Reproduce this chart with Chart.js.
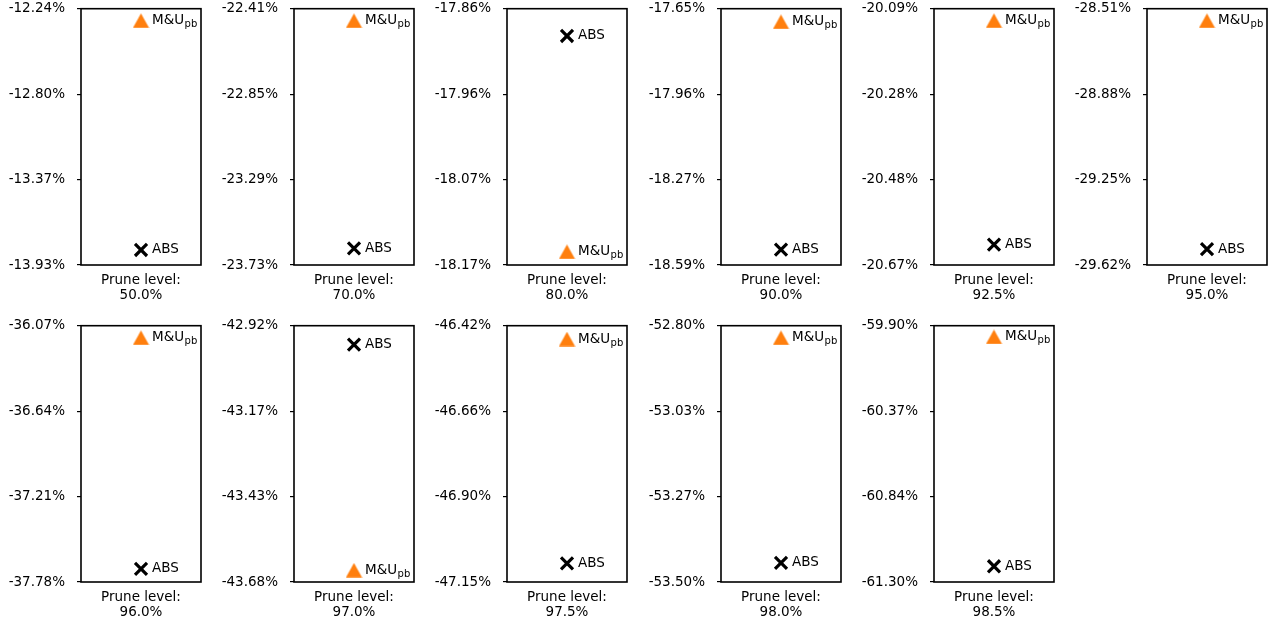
<!DOCTYPE html>
<html>
<head>
<meta charset="utf-8">
<script src="https://cdn.jsdelivr.net/npm/chart.js@4.4.1/dist/chart.umd.min.js"></script>
<style>
  html, body { margin: 0; padding: 0; background: #fff; overflow: hidden; }
  #wrap { position: relative; width: 1278px; height: 622px; }
  canvas { position: absolute; }
</style>
</head>
<body>
<div id="wrap"></div>
<script>
// ---- data ----
const pruneLevels = ['50.0%', '70.0%', '80.0%', '90.0%', '92.5%', '95.0%', '96.0%', '97.0%', '97.5%', '98.0%', '98.5%'];
const muPbValues = [-12.319, -22.472, -18.154, -17.694, -20.117, -28.562, -36.150, -43.645, -46.454, -52.833, -59.965];
const absValues  = [-13.831, -23.644, -17.893, -18.530, -20.624, -29.551, -37.692, -42.976, -47.094, -53.448, -61.218];
const yAxisTop    = [-12.24, -22.41, -17.86, -17.646, -20.09, -28.51, -36.07, -42.92, -46.416, -52.80, -59.904];
const yAxisBottom = [-13.93, -23.73, -18.17, -18.586, -20.67, -29.62, -37.78, -43.68, -47.147, -53.50, -61.304];
const seriesNames = ['ABS', 'M&U'];

Chart.defaults.font.family = "'DejaVu Sans', sans-serif";
Chart.defaults.color = '#000';

// triangle marker image (centered on bounding box like matplotlib '^')
const tri = document.createElement('canvas');
tri.width = 17; tri.height = 15;
(function () {
  const c = tri.getContext('2d');
  c.fillStyle = '#ff7f0e';
  c.beginPath();
  c.moveTo(8.5, 0.2); c.lineTo(16.6, 14.8); c.lineTo(0.4, 14.8); c.closePath();
  c.fill();
})();

const framePlugin = {
  id: 'frame',
  afterDraw(chart) {
    const {ctx, chartArea: a} = chart;
    ctx.save();
    ctx.strokeStyle = '#000';
    ctx.lineWidth = 1.6;
    ctx.strokeRect(a.left, a.top, a.right - a.left, a.bottom - a.top);
    ctx.restore();
  }
};

const labelPlugin = {
  id: 'pointLabels',
  afterDatasetsDraw(chart) {
    const ctx = chart.ctx;
    ctx.save();
    ctx.fillStyle = '#000';
    ctx.textAlign = 'left';
    ctx.textBaseline = 'middle';
    chart.data.datasets.forEach((ds, i) => {
      const p = chart.getDatasetMeta(i).data[0];
      if (!p) return;
      const x = p.x + 11, y = p.y;
      ctx.font = "13.5px 'DejaVu Sans'";
      ctx.fillText(ds.label, x, y);
      if (ds.sub) {
        const w = ctx.measureText(ds.label).width;
        ctx.font = "10px 'DejaVu Sans'";
        ctx.fillText(ds.sub, x + w + 0.5, y + 4);
      }
    });
    ctx.restore();
  }
};

const wrap = document.getElementById('wrap');
pruneLevels.forEach((lvl, i) => {
  const col = i % 6, row = Math.floor(i / 6);
  const cv = document.createElement('canvas');
  cv.width = 213; cv.height = 313;
  cv.style.width = '213px'; cv.style.height = '313px';
  cv.style.left = Math.round(col * 213.2) + 'px';
  cv.style.top = (row * 317 - 3) + 'px';
  wrap.appendChild(cv);

  const top = yAxisTop[i], bot = yAxisBottom[i];
  new Chart(cv, {
    type: 'scatter',
    data: {
      datasets: [
        { label: seriesNames[1], sub: 'pb', data: [{x: 0, y: muPbValues[i]}],
          pointStyle: tri, pointRadius: 8, backgroundColor: '#ff7f0e', borderColor: '#ff7f0e' },
        { label: seriesNames[0], data: [{x: 0, y: absValues[i]}],
          pointStyle: 'crossRot', pointRadius: 8.5, borderWidth: 3.2, borderColor: '#000', backgroundColor: '#000' }
      ]
    },
    options: {
      responsive: false,
      animation: false,
      devicePixelRatio: 1,
      layout: { padding: { top: 5, right: 12, left: 0, bottom: 0 } },
      plugins: { legend: { display: false }, tooltip: { enabled: false } },
      scales: {
        x: {
          type: 'linear', min: -1, max: 1,
          grid: { display: false },
          border: { display: false },
          ticks: { display: false },
          afterFit: s => { s.height = 45; s.paddingLeft = 0; s.paddingRight = 0; },
          title: {
            display: true,
            text: ['Prune level:', lvl],
            color: '#000',
            font: { size: 13.5, lineHeight: 1.13 },
            padding: { top: 0, bottom: 7 }
          }
        },
        y: {
          type: 'linear', min: bot, max: top,
          border: { display: false },
          grid: { drawOnChartArea: false, drawTicks: true, tickLength: 4, color: '#000', lineWidth: 1.2 },
          afterBuildTicks: s => {
            s.ticks = [0, 1, 2, 3].map(k => ({ value: bot + (top - bot) * k / 3 }));
          },
          afterFit: s => { s.width = 81; s.paddingTop = 0; s.paddingBottom = 0; },
          ticks: {
            padding: 12,
            color: '#000',
            font: { size: 13.5 },
            callback: v => v.toFixed(2) + '%'
          }
        }
      }
    },
    plugins: [framePlugin, labelPlugin]
  });
});
</script>
</body>
</html>
